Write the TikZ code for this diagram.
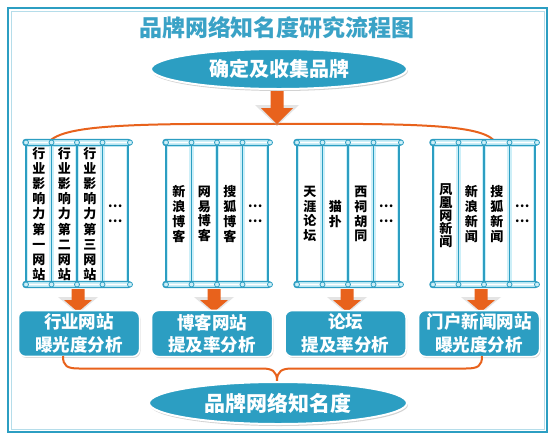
\documentclass[tikz,border=0pt]{standalone}
\usepackage{fontspec}
\setmainfont{Noto Sans CJK SC}
\usetikzlibrary{shapes.geometric,shadows}
\definecolor{tealA}{HTML}{2C9EC2}
\definecolor{titleC}{HTML}{3AA2C6}
\definecolor{orangeA}{HTML}{E8621C}
\definecolor{lightC}{HTML}{CDEFF8}
\tikzset{
  frameline/.style={draw=tealA, line width=2.5pt},
  titlenode/.style={text=titleC, font=\bfseries\fontsize{23}{26}\selectfont},
  oval/.style={ellipse, fill=tealA, draw=white, line width=2pt, text=white, inner sep=0pt,
    drop shadow={shadow xshift=1pt, shadow yshift=-2pt, opacity=0.35}},
  col/.style={rectangle, draw=tealA, line width=1.3pt, fill=lightC, minimum width=25.5pt,
    minimum height=138pt, inner sep=0pt, font=\bfseries\fontsize{13}{15}\selectfont, align=center,
    path picture={\fill[white] ([shift={(2.2pt,-2.2pt)}]path picture bounding box.north west)
      rectangle ([shift={(-2.2pt,2.2pt)}]path picture bounding box.south east);}},
  rod/.style={draw=tealA, line width=1.1pt, fill=lightC, rounded corners=2.5pt},
  knob/.style={circle, draw=tealA, line width=0.8pt, fill=lightC, minimum size=5pt, inner sep=0pt},
  bluebox/.style={rectangle, rounded corners=7pt, fill=tealA, draw=white, line width=1.5pt,
    minimum width=121pt, minimum height=43pt, text=white, align=center,
    font=\bfseries\fontsize{17.5}{22.5}\selectfont,
    drop shadow={shadow xshift=1pt, shadow yshift=-1.5pt, opacity=0.3}},
  orangeline/.style={draw=orangeA, line width=2pt},
  pics/darrow/.style n args={3}{code={
    % #1 shaft length, #2 head length, #3 head half width
    \fill[black!30, opacity=0.35] (-#3-6,#1-3) -- (#3+6,#1-3) -- (0,#1+#2+2) -- cycle;
    \fill[orangeA] (-6.5,0) -- (6.5,0) -- (6.5,#1) -- (#3,#1) -- (0,#1+#2) -- (-#3,#1) -- (-6.5,#1) -- cycle;
  }}
}
\begin{document}
\begin{tikzpicture}[x=1pt,y=-1pt]
\useasboundingbox (0,0) rectangle (555,440);
\fill[white] (0,0) rectangle (555,440);
% frame
\draw[frameline] (8,8) rectangle (547,432);
\draw[tealA!35, line width=0.8pt] (11,11) rectangle (544,429);
% title
\node[titlenode] (title) at (277,28) {品牌网络知名度研究流程图};
% top ellipse
\node[oval, minimum width=256pt, minimum height=40pt, font=\bfseries\fontsize{20}{22}\selectfont] (start) at (279,69) {确定及收集品牌};
% top bracket
\coordinate (bl) at (46,148);
\coordinate (br) at (498,148);
\coordinate (bm) at (277,124);
\draw[orangeline] (bl) .. controls (50,126) and (110,123) .. (bm) .. controls (444,123) and (494,126) .. (br);
\pic at (277,91) {darrow={17}{16}{16}};
% columns
\foreach \g/\x in {1/26,2/166,3/297,4/433}{
  \foreach \i in {0,1,2,3}{
    \node[col] (c\g\i) at ({\x+12.75+25.5*\i},214) {};
  }
}
% rods
\foreach \x in {26,166,297,433}{
  \draw[rod] ({\x-3},139.5) rectangle ({\x+105},145.5);
  \draw[rod] ({\x-3},281.5) rectangle ({\x+105},287.5);
  \draw[white, line width=0.6pt] ({\x-1},142.5) -- ({\x+103},142.5);
  \draw[white, line width=0.6pt] ({\x-1},284.5) -- ({\x+103},284.5);
  \foreach \k in {0,1,2,3}{
    \node[knob] at ({\x+25.5*\k},142.5) {};
    \node[knob] at ({\x+25.5*\k},284.5) {};
  }
  \node[knob] at ({\x+104},142.5) {};
  \node[knob] at ({\x+104},284.5) {};
}
% column texts
\node[align=center, font=\bfseries\fontsize{13}{15.1}\selectfont] (t10) at (c10) {行\\业\\影\\响\\力\\第\\一\\网\\站};
\node[align=center, font=\bfseries\fontsize{13}{15.1}\selectfont] (t11) at (c11) {行\\业\\影\\响\\力\\第\\二\\网\\站};
\node[align=center, font=\bfseries\fontsize{13}{15.1}\selectfont] (t12) at (c12) {行\\业\\影\\响\\力\\第\\三\\网\\站};
\node[align=center, font=\bfseries\fontsize{13}{15}\selectfont] (t13) at (c13) {…\\…};
\node[align=center, font=\bfseries\fontsize{13}{14.8}\selectfont] (t20) at (c20) {新\\浪\\博\\客};
\node[align=center, font=\bfseries\fontsize{13}{14.8}\selectfont] (t21) at (c21) {网\\易\\博\\客};
\node[align=center, font=\bfseries\fontsize{13}{14.8}\selectfont] (t22) at (c22) {搜\\狐\\博\\客};
\node[align=center, font=\bfseries\fontsize{13}{15}\selectfont] (t23) at (c23) {…\\…};
\node[align=center, font=\bfseries\fontsize{13}{14.8}\selectfont] (t30) at (c30) {天\\涯\\论\\坛};
\node[align=center, font=\bfseries\fontsize{13}{14.8}\selectfont] (t31) at (c31) {猫\\扑};
\node[align=center, font=\bfseries\fontsize{13}{14.8}\selectfont] (t32) at (c32) {西\\祠\\胡\\同};
\node[align=center, font=\bfseries\fontsize{13}{15}\selectfont] (t33) at (c33) {…\\…};
\node[align=center, font=\bfseries\fontsize{13}{13}\selectfont] (t40) at ([yshift=-2pt]c40.center) {凤\\凰\\网\\新\\闻};
\node[align=center, font=\bfseries\fontsize{13}{14.8}\selectfont] (t41) at (c41) {新\\浪\\新\\闻};
\node[align=center, font=\bfseries\fontsize{13}{14.8}\selectfont] (t42) at (c42) {搜\\狐\\新\\闻};
\node[align=center, font=\bfseries\fontsize{13}{15}\selectfont] (t43) at (c43) {…\\…};
% arrows below groups
\foreach \x in {78,214,347,481}{
  \pic at (\x,289) {darrow={11}{12}{14}};
}
% boxes
\node[bluebox] (b1) at (79,333.5) {行业网站\\曝光度分析};
\node[bluebox] (b2) at (212,333.5) {博客网站\\提及率分析};
\node[bluebox] (b3) at (345.5,333.5) {论坛\\提及率分析};
\node[bluebox] (b4) at (479,333.5) {门户新闻网站\\曝光度分析};
% brace
\coordinate (el) at (63,356);
\coordinate (er) at (482,356);
\coordinate (cusp) at (277,381);
\draw[orangeline] (el) .. controls (63,366) and (67,368.5) .. (79,368.5) -- (262,368.5) .. controls (272,368.5) and (277,371) .. (cusp);
\draw[orangeline] (er) .. controls (482,366) and (478,368.5) .. (466,368.5) -- (292,368.5) .. controls (282,368.5) and (277,371) .. (cusp);
% bottom ellipse
\node[oval, minimum width=258pt, minimum height=42pt, font=\bfseries\fontsize{21}{23}\selectfont] (end) at (278,403) {品牌网络知名度};
\end{tikzpicture}
\end{document}
